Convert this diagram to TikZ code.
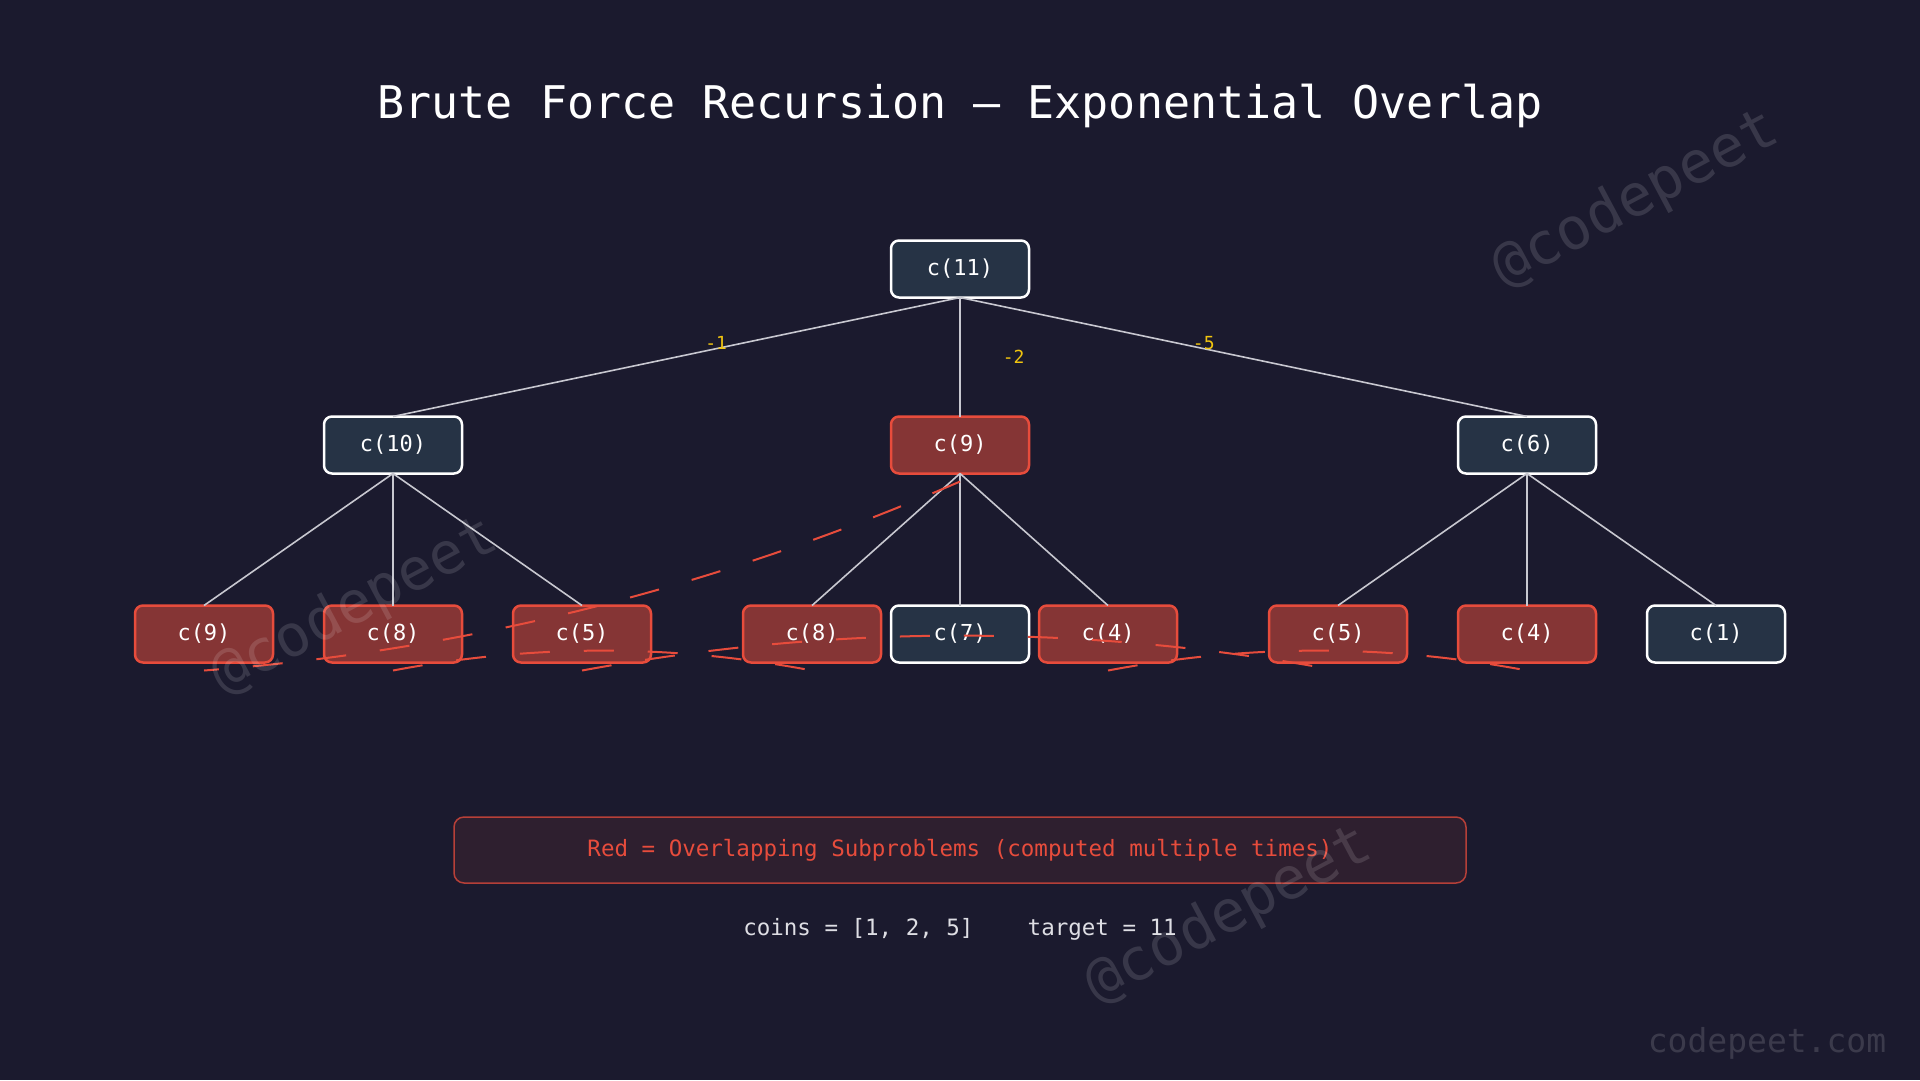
\documentclass[tikz,border=0pt]{standalone}
\usepackage{fontspec}
\setmonofont{DejaVu Sans Mono}
\usetikzlibrary{positioning}
\definecolor{bgNavy}{RGB}{27, 26, 46}
\definecolor{boxSlate}{RGB}{38, 51, 69}
\definecolor{boxRed}{RGB}{133, 53, 53}
\definecolor{lineRed}{RGB}{231, 76, 60}
\definecolor{edgeGrey}{RGB}{200, 200, 208}
\definecolor{costGold}{RGB}{241, 196, 15}
\definecolor{legendFill}{RGB}{46, 31, 47}
\definecolor{noteText}{RGB}{222, 222, 228}

\begin{document}
\begin{tikzpicture}[x=1pt, y=-1pt, node distance=132pt,
    callbox/.style={rounded corners=8pt, line width=2.5pt, minimum width=138pt, minimum height=57pt, inner sep=0pt, outer sep=0pt, text=white, font=\ttfamily\fontsize{22}{26}\selectfont},
    newcall/.style={callbox, draw=white, fill=boxSlate},
    dupcall/.style={callbox, draw=lineRed, fill=boxRed},
    branchline/.style={draw=edgeGrey, line width=1.6pt},
    coinlbl/.style={text=costGold, inner sep=2pt, font=\ttfamily\fontsize{18}{20}\selectfont},
    overlapdash/.style={draw=lineRed, line width=2pt, dash pattern=on 30pt off 34pt},
    watermark/.style={text=white, text opacity=0.13, rotate=28, font=\ttfamily\fontsize{58}{60}\selectfont}]
      \useasboundingbox (0,0) rectangle (1920,1080);
      \fill[bgNavy] (0,0) rectangle (1920,1080);

      \node (title) [text=white, font=\ttfamily\fontsize{45}{54}\selectfont] at (960,106) {Brute Force Recursion — Exponential Overlap};

      \node (root) [newcall] at (960,269) {c(11)};
      \node (n9) [dupcall, below=119pt of root] {c(9)};
      \node (n10) [newcall, left=429pt of n9] {c(10)};
      \node (n6) [newcall, right=429pt of n9] {c(6)};

      \node (l8a) [dupcall, below=of n10] {c(8)};
      \node (l9) [dupcall, left=51pt of l8a] {c(9)};
      \node (l5a) [dupcall, right=51pt of l8a] {c(5)};

      \node (l7) [newcall, below=of n9] {c(7)};
      \node (l8b) [dupcall, left=10pt of l7] {c(8)};
      \node (l4a) [dupcall, right=10pt of l7] {c(4)};

      \node (l4b) [dupcall, below=of n6] {c(4)};
      \node (l5b) [dupcall, left=51pt of l4b] {c(5)};
      \node (l1) [newcall, right=51pt of l4b] {c(1)};

      \draw[branchline] (root.south) -- node[coinlbl, pos=0.43, yshift=6pt] {-1} (n10.north);
      \draw[branchline] (root.south) -- node[coinlbl, right=40pt] {-2} (n9.north);
      \draw[branchline] (root.south) -- node[coinlbl, pos=0.43, yshift=6pt] {-5} (n6.north);
      \foreach \kid in {l9, l8a, l5a}
          \draw[branchline] (n10.south) -- (\kid.north);
      \foreach \kid in {l8b, l7, l4a}
          \draw[branchline] (n9.south) -- (\kid.north);
      \foreach \kid in {l5b, l4b, l1}
          \draw[branchline] (n6.south) -- (\kid.north);

      \draw[overlapdash] ([yshift=-8pt]n9.south) .. controls (715,588) and (463,651) .. ([yshift=-8pt]l9.south);
      \draw[overlapdash] ([yshift=-8pt]l8a.south) .. controls (533,644) and (672,644) .. ([yshift=-8pt]l8b.south);
      \draw[overlapdash] ([yshift=-8pt]l5a.south) .. controls (834,624) and (1086,624) .. ([yshift=-8pt]l5b.south);
      \draw[overlapdash] ([yshift=-8pt]l4a.south) .. controls (1248,644) and (1387,644) .. ([yshift=-8pt]l4b.south);

      \node (legend) [draw=lineRed, draw opacity=0.75, fill=legendFill, rounded corners=10pt, line width=1.5pt, minimum width=1012pt, minimum height=66pt, text=lineRed, font=\ttfamily\fontsize{22.5}{26}\selectfont] at (960,850) {Red = Overlapping Subproblems (computed multiple times)};
      \node (coins) [text=noteText, font=\ttfamily\fontsize{22.5}{26}\selectfont] at (960,929) {coins = [1, 2, 5]\ \ \ \ target = 11};

      \node (wmTop) [watermark] at (1636,200) {@codepeet};
      \node (wmLeft) [watermark] at (355,607) {@codepeet};
      \node (wmLow) [watermark] at (1229,916) {@codepeet};
      \node (site) [text=white, text opacity=0.14, font=\ttfamily\fontsize{33}{36}\selectfont] at (1767,1043) {codepeet.com};
  \end{tikzpicture}
\end{document}
